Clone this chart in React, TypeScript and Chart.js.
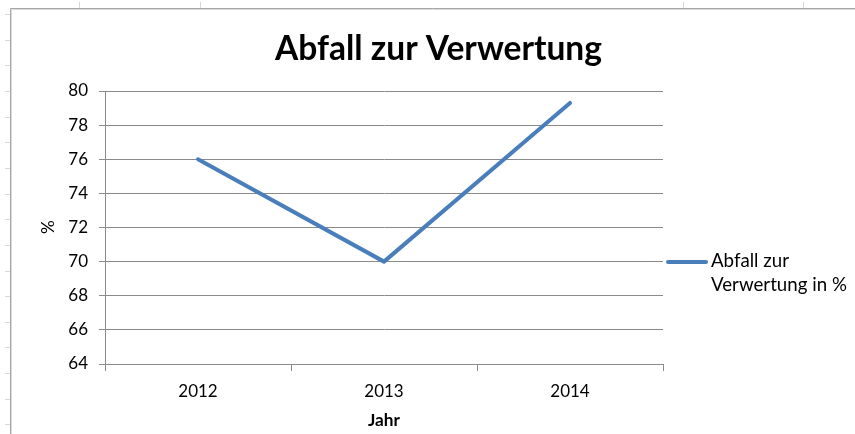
import React, { useEffect, useRef } from "react";
import { Chart, registerables } from "chart.js";

Chart.register(...registerables);

const categories: string[] = ["2012", "2013", "2014"];
const wasteValues: number[] = [76, 70, 79.3];
const yMin = 64;
const yMax = 80;
const yStep = 2;
const chartTitle = "Abfall zur Verwertung";
const xAxisTitle = "Jahr";
const yAxisTitle = "%";
const legendLines: string[] = ["Abfall zur", "Verwertung in %"];

const FONT = "Lato, 'Open Sans', sans-serif";
const LINE_COLOR = "#4a7ebb";
const GRID_COLOR = "#8a8a8a";

function fitSize(ctx: CanvasRenderingContext2D, text: string, weight: string, target: number): number {
  ctx.font = `${weight} 100px ${FONT}`;
  const w = ctx.measureText(text).width;
  return (100 * target) / w;
}

const decorPlugin = {
  id: "decor",
  beforeDraw(chart: any) {
    const ctx: CanvasRenderingContext2D = chart.ctx;
    ctx.save();
    ctx.fillStyle = "#ffffff";
    ctx.fillRect(0, 0, chart.width, chart.height);
    // spreadsheet markers
    ctx.strokeStyle = "#d6d6d6";
    ctx.lineWidth = 1;
    for (let i = 0; i < 17; i++) {
      const y = Math.round(14 + i * 25.65) + 0.5;
      ctx.beginPath();
      ctx.moveTo(5, y);
      ctx.lineTo(10, y);
      ctx.stroke();
    }
    [79, 200, 683, 803].forEach((x) => {
      ctx.beginPath();
      ctx.moveTo(x + 0.5, 2);
      ctx.lineTo(x + 0.5, 8);
      ctx.stroke();
    });
    // frame
    ctx.strokeStyle = "#a6a6a6";
    ctx.beginPath();
    ctx.moveTo(10.5, chart.height);
    ctx.lineTo(10.5, 8.5);
    ctx.lineTo(chart.width, 8.5);
    ctx.stroke();
    ctx.strokeStyle = "#dadada";
    ctx.beginPath();
    ctx.moveTo(11.5, chart.height);
    ctx.lineTo(11.5, 9.5);
    ctx.lineTo(chart.width, 9.5);
    ctx.stroke();
    ctx.restore();
  },
  afterDraw(chart: any) {
    const ctx: CanvasRenderingContext2D = chart.ctx;
    const area = chart.chartArea;
    ctx.save();
    ctx.fillStyle = "#000000";
    ctx.textBaseline = "alphabetic";
    // title
    const ts = fitSize(ctx, chartTitle, "bold", 327);
    ctx.font = `bold ${ts}px ${FONT}`;
    ctx.textAlign = "center";
    ctx.fillText(chartTitle, 438.5, 60);
    // x axis title
    const xs = fitSize(ctx, xAxisTitle, "bold", 32);
    ctx.font = `bold ${xs}px ${FONT}`;
    ctx.textAlign = "center";
    ctx.fillText(xAxisTitle, (area.left + area.right) / 2, 426);
    // y axis title
    ctx.save();
    ctx.translate(54, 227);
    ctx.rotate(-Math.PI / 2);
    ctx.font = `${xs}px ${FONT}`;
    ctx.textAlign = "center";
    ctx.fillText(yAxisTitle, 0, 0);
    ctx.restore();
    // legend
    ctx.strokeStyle = LINE_COLOR;
    ctx.lineWidth = 4;
    ctx.lineCap = "round";
    ctx.beginPath();
    ctx.moveTo(668, 262);
    ctx.lineTo(706, 262);
    ctx.stroke();
    const ls = fitSize(ctx, legendLines[1], "normal", 136);
    ctx.font = `${ls}px ${FONT}`;
    ctx.textAlign = "left";
    ctx.fillStyle = "#000000";
    ctx.fillText(legendLines[0], 711, 267);
    ctx.fillText(legendLines[1], 711, 291);
    ctx.restore();
  },
};

export default function App() {
  const ref = useRef<HTMLCanvasElement | null>(null);
  useEffect(() => {
    if (!ref.current) return;
    const chart = new Chart(ref.current, {
      type: "line",
      data: {
        labels: categories,
        datasets: [
          {
            label: legendLines.join(" "),
            data: wasteValues,
            borderColor: LINE_COLOR,
            backgroundColor: LINE_COLOR,
            borderWidth: 4,
            borderCapStyle: "round",
            borderJoinStyle: "round",
            pointRadius: 0,
            tension: 0,
          },
        ],
      },
      options: {
        responsive: false,
        animation: false,
        layout: { padding: { left: 0, top: 91, right: 192, bottom: 0 } },
        plugins: { legend: { display: false }, title: { display: false }, tooltip: { enabled: false } },
        scales: {
          x: {
            type: "category",
            offset: true,
            grid: { offset: true, drawOnChartArea: false, drawTicks: true, tickLength: 7, color: GRID_COLOR },
            border: { display: true, color: GRID_COLOR, width: 1 },
            ticks: { color: "#000000", font: { family: FONT, size: 17 }, padding: 10 },
            afterFit: (s: any) => {
              s.height = 70;
            },
          },
          y: {
            min: yMin,
            max: yMax,
            grid: { drawTicks: true, tickLength: 6, color: GRID_COLOR },
            border: { display: true, color: GRID_COLOR, width: 1 },
            ticks: { stepSize: yStep, color: "#000000", font: { family: FONT, size: 17 }, padding: 11 },
            afterFit: (s: any) => {
              s.width = 105;
            },
          },
        },
      },
      plugins: [decorPlugin],
    });
    return () => chart.destroy();
  }, []);
  return (
    <div style={{ position: "fixed", left: 0, top: 0, width: 855, height: 434 }}>
      <canvas ref={ref} width={855} height={434} style={{ width: 855, height: 434, display: "block" }} />
    </div>
  );
}
